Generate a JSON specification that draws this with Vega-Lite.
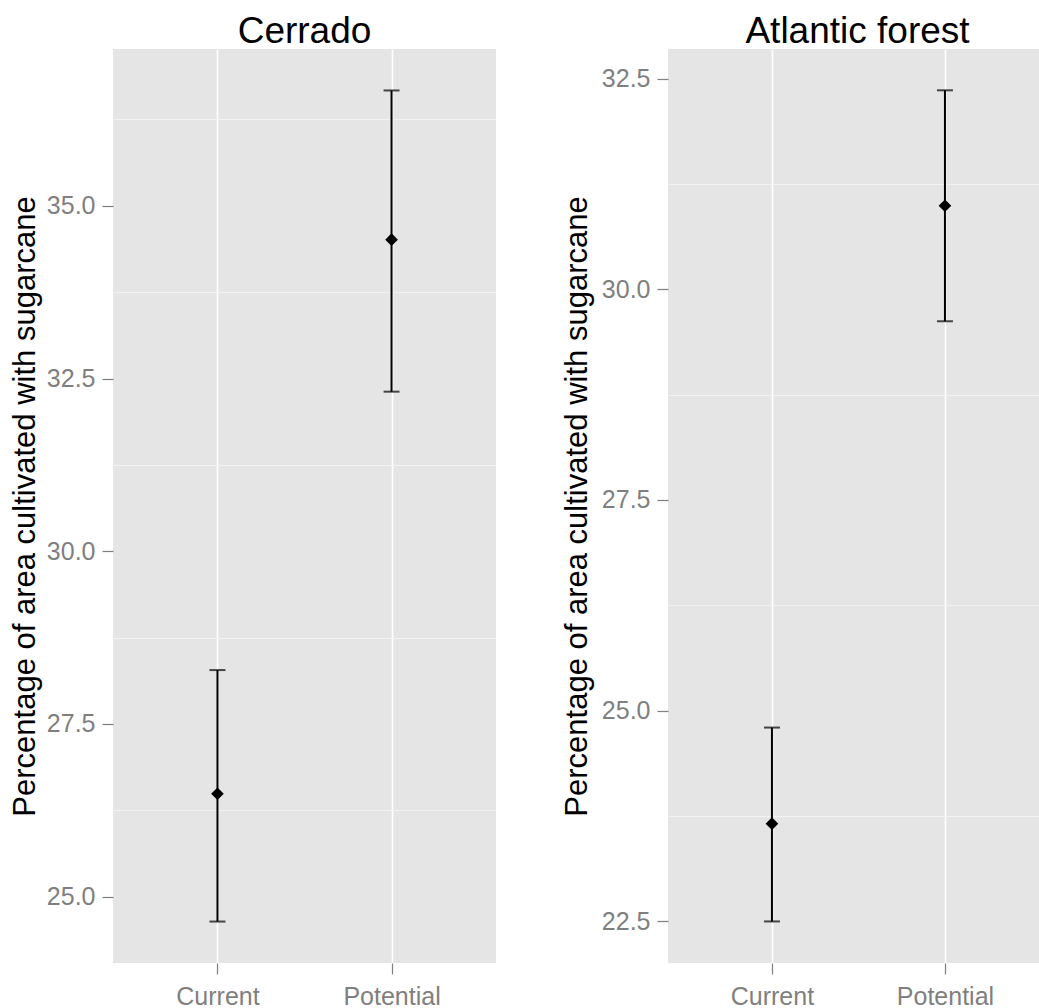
{
  "$schema": "https://vega.github.io/schema/vega-lite/v6.json",
  "autosize": {"type": "pad"},
  "padding": {"left": 9, "top": 13, "right": 0, "bottom": 4},
  "background": "white",
  "config": {
    "font": "Liberation Sans",
    "view": {"fill": "#E5E5E5", "stroke": null},
    "concat": {"spacing": 172},
    "title": {"fontSize": 37, "fontWeight": "normal", "color": "black", "baseline": "alphabetic", "offset": -2, "anchor": "middle"},
    "axis": {
      "domain": false,
      "tickColor": "#7F7F7F",
      "tickSize": 11,
      "tickWidth": 1.2,
      "labelColor": "#7F7F7F",
      "labelFontSize": 25,
      "gridColor": "white",
      "gridWidth": 1.6,
      "titleFontSize": 31,
      "titleFontWeight": "normal",
      "titleColor": "black"
    }
  },
  "bounds": "flush",
  "data": {
    "values": [
      {"region": "Cerrado", "scenario": "Current", "mean": 26.49, "lo": 24.64, "hi": 28.28},
      {"region": "Cerrado", "scenario": "Potential", "mean": 34.51, "lo": 32.31, "hi": 36.67},
      {"region": "Atlantic forest", "scenario": "Current", "mean": 23.66, "lo": 22.5, "hi": 24.8},
      {"region": "Atlantic forest", "scenario": "Potential", "mean": 30.99, "lo": 29.62, "hi": 32.36}
    ]
  },
  "hconcat": [
    {
      "title": "Cerrado",
      "width": 383,
      "height": 914,
      "transform": [{"filter": "datum.region === 'Cerrado'"}],
      "encoding": {
        "x": {"field": "scenario", "type": "nominal", "scale": {"type": "point", "padding": 0.6},
              "axis": {"title": null, "labelAngle": 0, "labelPadding": 10, "labelBaseline": "top", "grid": true}}
      },
      "layer": [
        {
          "mark": {"type": "rule", "opacity": 0},
          "encoding": {
            "y": {"field": "mean", "type": "quantitative", "scale": {"domain": [24.04, 37.27], "nice": false, "zero": false},
                  "axis": {"orient": "right", "values": [26.25, 28.75, 31.25, 33.75, 36.25], "labels": false, "ticks": false, "title": null, "gridColor": "#F2F2F2", "gridWidth": 1}}
          }
        },
        {
          "mark": {"type": "rule", "color": "black", "strokeWidth": 2},
          "encoding": {
            "y": {"field": "lo", "type": "quantitative",
                  "axis": {"orient": "left", "values": [25, 27.5, 30, 32.5, 35], "format": ".1f", "labelPadding": 7, "title": "Percentage of area cultivated with sugarcane", "titleBaseline": "alphabetic", "titlePadding": 12}},
            "y2": {"field": "hi"}
          }
        },
        {
          "mark": {"type": "tick", "orient": "horizontal", "color": "black", "size": 16, "thickness": 2},
          "encoding": {"y": {"field": "lo", "type": "quantitative", "axis": null}}
        },
        {
          "mark": {"type": "tick", "orient": "horizontal", "color": "black", "size": 16, "thickness": 2},
          "encoding": {"y": {"field": "hi", "type": "quantitative", "axis": null}}
        },
        {
          "mark": {"type": "point", "shape": "diamond", "filled": true, "color": "black", "size": 160, "opacity": 1},
          "encoding": {"y": {"field": "mean", "type": "quantitative", "axis": null}}
        }
      ],
      "resolve": {"axis": {"y": "independent"}}
    },
    {
      "title": {"text": "Atlantic forest", "dx": 4},
      "width": 371,
      "height": 914,
      "transform": [{"filter": "datum.region === 'Atlantic forest'"}],
      "encoding": {
        "x": {"field": "scenario", "type": "nominal", "scale": {"type": "point", "padding": 0.5723, "align": 0.525},
              "axis": {"title": null, "labelAngle": 0, "labelPadding": 10, "labelBaseline": "top", "grid": true}}
      },
      "layer": [
        {
          "mark": {"type": "rule", "opacity": 0},
          "encoding": {
            "y": {"field": "mean", "type": "quantitative", "scale": {"domain": [22.007, 32.85], "nice": false, "zero": false},
                  "axis": {"orient": "right", "values": [23.75, 26.25, 28.75, 31.25], "labels": false, "ticks": false, "title": null, "gridColor": "#F2F2F2", "gridWidth": 1}}
          }
        },
        {
          "mark": {"type": "rule", "color": "black", "strokeWidth": 2},
          "encoding": {
            "y": {"field": "lo", "type": "quantitative",
                  "axis": {"orient": "left", "values": [22.5, 25, 27.5, 30, 32.5], "format": ".1f", "labelPadding": 7, "title": "Percentage of area cultivated with sugarcane", "titleBaseline": "alphabetic", "titlePadding": 15}},
            "y2": {"field": "hi"}
          }
        },
        {
          "mark": {"type": "tick", "orient": "horizontal", "color": "black", "size": 16, "thickness": 2},
          "encoding": {"y": {"field": "lo", "type": "quantitative", "axis": null}}
        },
        {
          "mark": {"type": "tick", "orient": "horizontal", "color": "black", "size": 16, "thickness": 2},
          "encoding": {"y": {"field": "hi", "type": "quantitative", "axis": null}}
        },
        {
          "mark": {"type": "point", "shape": "diamond", "filled": true, "color": "black", "size": 160, "opacity": 1},
          "encoding": {"y": {"field": "mean", "type": "quantitative", "axis": null}}
        }
      ],
      "resolve": {"axis": {"y": "independent"}}
    }
  ]
}
